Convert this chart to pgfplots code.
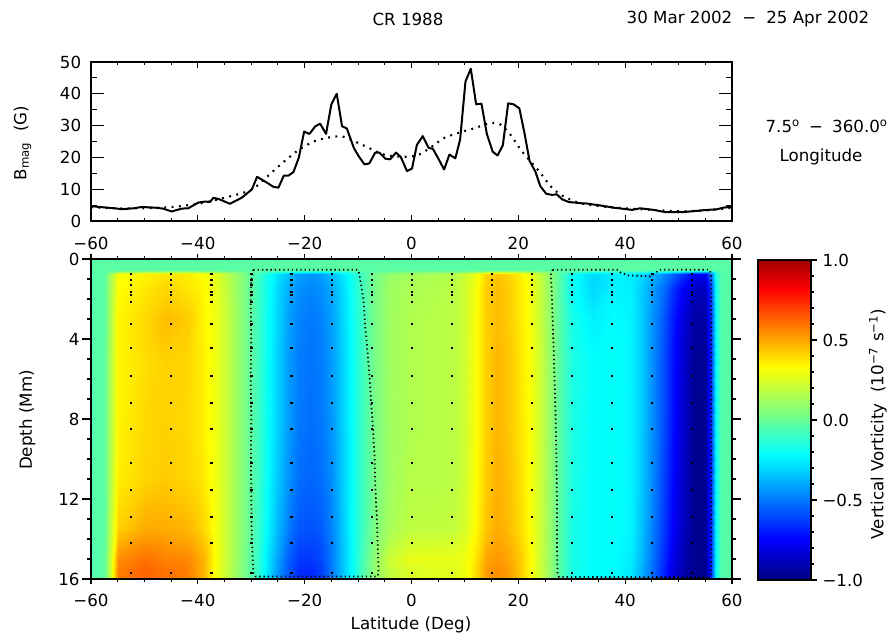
\documentclass[border=0pt]{standalone}
\usepackage{pgfplots}
\pgfplotsset{compat=1.18}
\usepackage{pgfplotstable}
\usepackage{fontspec}
\setmainfont{DejaVu Sans}
\pgfplotstableread[row sep=\\]{lat k\\-52.5 0\\-45 0\\-37.5 0\\-30 0\\-22.5 0\\-15 0\\-7.5 0\\0 0\\7.5 0\\15 0\\22.5 0\\30 0\\37.5 0\\45 0\\52.5 0\\}\dotlats
\begin{document}
\fontsize{12.5}{15}\selectfont
\begin{tikzpicture}
\pgfplotsset{
  colormap={vort}{rgb(0pt)=(0,0,0.5); rgb(25pt)=(0,0,1); rgb(78pt)=(0,1,1); rgb(105pt)=(0.5,1,0.5); rgb(133pt)=(1,1,0); rgb(182pt)=(1,0,0); rgb(200pt)=(0.62,0,0)},
  every axis/.append style={font=\fontsize{12.5}{15}\selectfont},
  every tick/.style={black, line width=0.8pt},
}
\path[use as bounding box] (0,0) rectangle (669pt,-479.25pt);

% ---------------- top panel ----------------
\begin{axis}[
  at={(68.25pt,-165.75pt)}, anchor=south west,
  scale only axis, width=480.75pt, height=119.25pt,
  xmin=-60, xmax=60, ymin=0, ymax=50,
  xtick={-60,-40,-20,0,20,40,60}, xticklabels={−60,−40,−20,0,20,40,60},
  ytick={0,10,20,30,40,50}, yticklabels={0,10,20,30,40,50},
  minor x tick num=3, minor y tick num=1,
  tick align=inside,
  xtick style={/pgfplots/major tick length=4.5pt, /pgfplots/minor tick length=2.5pt},
  ytick style={/pgfplots/major tick length=9.5pt, /pgfplots/minor tick length=4.5pt},
  axis line style={line width=0.9pt},
  xticklabel style={yshift=-8pt},
  yticklabel style={xshift=-3pt},
]
\addplot[black, line width=1.5pt, line join=round] coordinates {
(-60,4.7) (-59,4.5) (-57,4.2) (-55.5,4.0) (-54.3,3.7) (-52,4.0) (-50.5,4.4) (-48,4.2) (-46.5,3.9) (-44.9,3.0) (-43,3.9) (-41.8,4.0) (-39.9,5.8) (-38.7,6.1) (-37.7,6.0) (-37.1,7.3) (-35.9,6.8) (-34,5.4) (-31.8,7.3) (-29.9,9.9) (-28.9,13.9) (-27.4,12.4) (-25.8,10.7) (-24.9,10.5) (-23.9,14.3) (-23,14.3) (-22.1,15.4) (-21.1,19.9) (-20.1,28.1) (-19.1,27.4) (-18,29.8) (-17.1,30.6) (-16,27.4) (-15,36.7) (-14,40.0) (-13,29.8) (-12.1,29.1) (-10.8,23.0) (-9.9,20.4) (-8.8,17.8) (-7.9,18.1) (-6.8,21.5) (-6.0,21.5) (-4.9,19.6) (-4.0,19.4) (-2.9,21.5) (-2.0,20.1) (-0.85,15.7) (0.1,16.5) (1.0,23.9) (2.1,26.7) (3.2,23.0) (4.0,22.7) (5.1,19.4) (6.1,16.2) (7.1,20.9) (8.2,19.7) (9.1,25.6) (10.1,43.8) (11.1,47.9) (12.1,36.7) (13.1,36.9) (14.1,27.4) (15.2,21.8) (16.1,20.6) (17.1,23.8) (18.1,37.0) (19.1,36.7) (20.2,35.4) (21.2,27.2) (22.1,18.9) (23.2,15.5) (24.1,11.0) (25.2,8.6) (26.3,8.2) (27.2,8.4) (28.2,6.8) (29.4,6.0) (31.6,5.6) (32.8,5.5) (35.3,4.9) (37.8,4.2) (40.3,3.7) (41.3,3.5) (42.8,4.0) (45.3,3.5) (47.5,2.8) (50.9,2.8) (54.7,3.4) (57.2,3.7) (58.4,4.2) (60,4.5)
};
\addplot[black, line width=1.6pt, line cap=butt, dash pattern=on 1.4pt off 4.1pt, smooth] coordinates {
(-60,4.3) (-55,4.0) (-50,4.0) (-45,4.4) (-40,5.4) (-35,7.3) (-30,9.8) (-27,14) (-24,18.5) (-21,22.5) (-18,25.2) (-15,26.4) (-13,26.6) (-11,25.3) (-8,23) (-5,20.8) (-2,20.2) (1,20.6) (3.5,23) (6,26) (9,27.8) (12,29.3) (14.8,30.8) (16.6,30.4) (18.5,27.2) (20.4,22.5) (22.2,18.9) (24.1,15.2) (26,11) (27.8,8.4) (29.7,6.8) (31.6,5.6) (35,4.7) (40,4.0) (45,3.5) (50,3.1) (55,3.3) (60,4.2)
};
\end{axis}

% ---------------- bottom panel ----------------
\begin{axis}[
  at={(68.25pt,-434.25pt)}, anchor=south west,
  scale only axis, width=480.75pt, height=240pt,
  xmin=-60, xmax=60, ymin=0, ymax=16, y dir=reverse,
  xtick={-60,-40,-20,0,20,40,60}, xticklabels={−60,−40,−20,0,20,40,60},
  ytick={0,4,8,12,16}, yticklabels={0,4,8,12,16},
  minor x tick num=3, minor y tick num=3,
  tick align=outside,
  xtick style={/pgfplots/major tick length=4pt, /pgfplots/minor tick length=2.2pt},
  ytick style={/pgfplots/major tick length=6.5pt, /pgfplots/minor tick length=3.3pt},
  axis line style={line width=0.9pt},
  xticklabel style={yshift=-3pt},
  axis on top,
  colormap name=vort, point meta min=-1, point meta max=1,
]
\addplot[surf, shader=interp, mesh/cols=53, point meta=explicit] table[x=x, y=y, meta=v, row sep=\\] {
x y v\\
-60 0 -0.03\\ -57.5 0 -0.03\\ -56.5 0 -0.03\\ -55 0 -0.03\\ -50 0 -0.03\\ -46 0 -0.03\\ -42 0 -0.03\\ -39 0 -0.03\\ -37 0 -0.03\\ -35 0 -0.03\\ -33 0 -0.03\\ -31 0 -0.03\\ -29 0 -0.03\\ -27 0 -0.03\\ -25 0 -0.03\\ -23 0 -0.03\\ -21 0 -0.03\\ -19 0 -0.03\\ -17 0 -0.03\\ -15 0 -0.03\\ -13 0 -0.03\\ -11 0 -0.03\\ -9 0 -0.03\\ -7 0 -0.03\\ -4 0 -0.03\\ 0 0 -0.03\\ 4 0 -0.03\\ 8 0 -0.03\\ 10 0 -0.03\\ 12 0 -0.03\\ 14 0 -0.03\\ 16 0 -0.03\\ 18 0 -0.03\\ 20 0 -0.03\\ 22 0 -0.03\\ 24 0 -0.03\\ 26 0 -0.03\\ 28 0 -0.03\\ 30 0 -0.03\\ 34 0 -0.03\\ 38 0 -0.03\\ 41 0 -0.03\\ 43 0 -0.03\\ 45 0 -0.03\\ 47 0 -0.03\\ 49 0 -0.03\\ 51 0 -0.03\\ 53 0 -0.03\\ 55 0 -0.03\\ 56 0 -0.03\\ 57 0 -0.03\\ 58 0 -0.03\\ 60 0 -0.03\\
-60 0.55 -0.03\\ -57.5 0.55 -0.03\\ -56.5 0.55 -0.03\\ -55 0.55 -0.03\\ -50 0.55 -0.03\\ -46 0.55 -0.03\\ -42 0.55 -0.03\\ -39 0.55 -0.03\\ -37 0.55 -0.03\\ -35 0.55 -0.03\\ -33 0.55 -0.03\\ -31 0.55 -0.03\\ -29 0.55 -0.03\\ -27 0.55 -0.03\\ -25 0.55 -0.03\\ -23 0.55 -0.03\\ -21 0.55 -0.03\\ -19 0.55 -0.03\\ -17 0.55 -0.03\\ -15 0.55 -0.03\\ -13 0.55 -0.03\\ -11 0.55 -0.03\\ -9 0.55 -0.03\\ -7 0.55 -0.03\\ -4 0.55 -0.03\\ 0 0.55 -0.03\\ 4 0.55 -0.03\\ 8 0.55 -0.03\\ 10 0.55 -0.03\\ 12 0.55 -0.03\\ 14 0.55 -0.03\\ 16 0.55 -0.03\\ 18 0.55 -0.03\\ 20 0.55 -0.03\\ 22 0.55 -0.03\\ 24 0.55 -0.03\\ 26 0.55 -0.03\\ 28 0.55 -0.03\\ 30 0.55 -0.03\\ 34 0.55 -0.03\\ 38 0.55 -0.03\\ 41 0.55 -0.03\\ 43 0.55 -0.03\\ 45 0.55 -0.03\\ 47 0.55 -0.03\\ 49 0.55 -0.03\\ 51 0.55 -0.03\\ 53 0.55 -0.03\\ 55 0.55 -0.03\\ 56 0.55 -0.03\\ 57 0.55 -0.03\\ 58 0.55 -0.03\\ 60 0.55 -0.03\\
-60 0.75 -0.04\\ -57.5 0.75 -0.03\\ -56.5 0.75 0.12\\ -55 0.75 0.31\\ -50 0.75 0.35\\ -46 0.75 0.38\\ -42 0.75 0.36\\ -39 0.75 0.33\\ -37 0.75 0.28\\ -35 0.75 0.20\\ -33 0.75 0.12\\ -31 0.75 0.03\\ -29 0.75 -0.08\\ -27 0.75 -0.18\\ -25 0.75 -0.28\\ -23 0.75 -0.36\\ -21 0.75 -0.42\\ -19 0.75 -0.44\\ -17 0.75 -0.42\\ -15 0.75 -0.36\\ -13 0.75 -0.27\\ -11 0.75 -0.17\\ -9 0.75 -0.07\\ -7 0.75 0.03\\ -4 0.75 0.10\\ 0 0.75 0.13\\ 4 0.75 0.15\\ 8 0.75 0.17\\ 10 0.75 0.22\\ 12 0.75 0.30\\ 14 0.75 0.41\\ 16 0.75 0.44\\ 18 0.75 0.41\\ 20 0.75 0.37\\ 22 0.75 0.30\\ 24 0.75 0.20\\ 26 0.75 0.08\\ 28 0.75 -0.06\\ 30 0.75 -0.20\\ 34 0.75 -0.30\\ 38 0.75 -0.25\\ 41 0.75 -0.25\\ 43 0.75 -0.30\\ 45 0.75 -0.38\\ 47 0.75 -0.45\\ 49 0.75 -0.55\\ 51 0.75 -0.65\\ 53 0.75 -0.75\\ 55 0.75 -0.78\\ 56 0.75 -0.50\\ 57 0.75 -0.15\\ 58 0.75 -0.04\\ 60 0.75 -0.04\\
-60 1.5 -0.04\\ -57.5 1.5 -0.03\\ -56.5 1.5 0.13\\ -55 1.5 0.33\\ -50 1.5 0.37\\ -46 1.5 0.41\\ -42 1.5 0.38\\ -39 1.5 0.34\\ -37 1.5 0.29\\ -35 1.5 0.21\\ -33 1.5 0.12\\ -31 1.5 0.03\\ -29 1.5 -0.08\\ -27 1.5 -0.19\\ -25 1.5 -0.30\\ -23 1.5 -0.40\\ -21 1.5 -0.45\\ -19 1.5 -0.47\\ -17 1.5 -0.45\\ -15 1.5 -0.40\\ -13 1.5 -0.30\\ -11 1.5 -0.18\\ -9 1.5 -0.07\\ -7 1.5 0.03\\ -4 1.5 0.12\\ 0 1.5 0.15\\ 4 1.5 0.16\\ 8 1.5 0.18\\ 10 1.5 0.23\\ 12 1.5 0.31\\ 14 1.5 0.43\\ 16 1.5 0.46\\ 18 1.5 0.43\\ 20 1.5 0.38\\ 22 1.5 0.32\\ 24 1.5 0.21\\ 26 1.5 0.09\\ 28 1.5 -0.06\\ 30 1.5 -0.20\\ 34 1.5 -0.30\\ 38 1.5 -0.24\\ 41 1.5 -0.25\\ 43 1.5 -0.32\\ 45 1.5 -0.42\\ 47 1.5 -0.52\\ 49 1.5 -0.65\\ 51 1.5 -0.77\\ 53 1.5 -0.87\\ 55 1.5 -0.88\\ 56 1.5 -0.60\\ 57 1.5 -0.18\\ 58 1.5 -0.04\\ 60 1.5 -0.04\\
-60 3 -0.04\\ -57.5 3 -0.03\\ -56.5 3 0.14\\ -55 3 0.35\\ -50 3 0.40\\ -46 3 0.46\\ -42 3 0.43\\ -39 3 0.35\\ -37 3 0.30\\ -35 3 0.22\\ -33 3 0.13\\ -31 3 0.03\\ -29 3 -0.08\\ -27 3 -0.20\\ -25 3 -0.31\\ -23 3 -0.42\\ -21 3 -0.48\\ -19 3 -0.50\\ -17 3 -0.48\\ -15 3 -0.42\\ -13 3 -0.31\\ -11 3 -0.19\\ -9 3 -0.08\\ -7 3 0.03\\ -4 3 0.12\\ 0 3 0.16\\ 4 3 0.17\\ 8 3 0.18\\ 10 3 0.23\\ 12 3 0.32\\ 14 3 0.42\\ 16 3 0.46\\ 18 3 0.43\\ 20 3 0.38\\ 22 3 0.32\\ 24 3 0.21\\ 26 3 0.09\\ 28 3 -0.05\\ 30 3 -0.17\\ 34 3 -0.25\\ 38 3 -0.22\\ 41 3 -0.24\\ 43 3 -0.32\\ 45 3 -0.44\\ 47 3 -0.56\\ 49 3 -0.70\\ 51 3 -0.83\\ 53 3 -0.93\\ 55 3 -0.93\\ 56 3 -0.63\\ 57 3 -0.20\\ 58 3 -0.04\\ 60 3 -0.04\\
-60 5 -0.04\\ -57.5 5 -0.03\\ -56.5 5 0.15\\ -55 5 0.35\\ -50 5 0.39\\ -46 5 0.42\\ -42 5 0.41\\ -39 5 0.36\\ -37 5 0.30\\ -35 5 0.22\\ -33 5 0.13\\ -31 5 0.03\\ -29 5 -0.08\\ -27 5 -0.20\\ -25 5 -0.32\\ -23 5 -0.43\\ -21 5 -0.49\\ -19 5 -0.51\\ -17 5 -0.49\\ -15 5 -0.43\\ -13 5 -0.32\\ -11 5 -0.20\\ -9 5 -0.08\\ -7 5 0.03\\ -4 5 0.12\\ 0 5 0.16\\ 4 5 0.17\\ 8 5 0.18\\ 10 5 0.23\\ 12 5 0.32\\ 14 5 0.42\\ 16 5 0.47\\ 18 5 0.44\\ 20 5 0.39\\ 22 5 0.33\\ 24 5 0.22\\ 26 5 0.10\\ 28 5 -0.05\\ 30 5 -0.16\\ 34 5 -0.22\\ 38 5 -0.21\\ 41 5 -0.24\\ 43 5 -0.32\\ 45 5 -0.45\\ 47 5 -0.58\\ 49 5 -0.72\\ 51 5 -0.85\\ 53 5 -0.96\\ 55 5 -0.96\\ 56 5 -0.65\\ 57 5 -0.20\\ 58 5 -0.04\\ 60 5 -0.04\\
-60 8 -0.05\\ -57.5 8 -0.03\\ -56.5 8 0.15\\ -55 8 0.35\\ -50 8 0.40\\ -46 8 0.42\\ -42 8 0.40\\ -39 8 0.36\\ -37 8 0.30\\ -35 8 0.22\\ -33 8 0.13\\ -31 8 0.03\\ -29 8 -0.08\\ -27 8 -0.20\\ -25 8 -0.32\\ -23 8 -0.43\\ -21 8 -0.50\\ -19 8 -0.52\\ -17 8 -0.50\\ -15 8 -0.44\\ -13 8 -0.32\\ -11 8 -0.20\\ -9 8 -0.08\\ -7 8 0.03\\ -4 8 0.12\\ 0 8 0.16\\ 4 8 0.17\\ 8 8 0.18\\ 10 8 0.23\\ 12 8 0.32\\ 14 8 0.42\\ 16 8 0.47\\ 18 8 0.44\\ 20 8 0.39\\ 22 8 0.33\\ 24 8 0.22\\ 26 8 0.10\\ 28 8 -0.05\\ 30 8 -0.16\\ 34 8 -0.22\\ 38 8 -0.21\\ 41 8 -0.24\\ 43 8 -0.32\\ 45 8 -0.45\\ 47 8 -0.58\\ 49 8 -0.72\\ 51 8 -0.85\\ 53 8 -0.97\\ 55 8 -0.97\\ 56 8 -0.65\\ 57 8 -0.20\\ 58 8 -0.04\\ 60 8 -0.04\\
-60 11 -0.04\\ -57.5 11 -0.03\\ -56.5 11 0.15\\ -55 11 0.36\\ -50 11 0.41\\ -46 11 0.43\\ -42 11 0.41\\ -39 11 0.37\\ -37 11 0.31\\ -35 11 0.22\\ -33 11 0.13\\ -31 11 0.03\\ -29 11 -0.08\\ -27 11 -0.21\\ -25 11 -0.34\\ -23 11 -0.45\\ -21 11 -0.52\\ -19 11 -0.54\\ -17 11 -0.52\\ -15 11 -0.46\\ -13 11 -0.33\\ -11 11 -0.20\\ -9 11 -0.08\\ -7 11 0.03\\ -4 11 0.12\\ 0 11 0.17\\ 4 11 0.17\\ 8 11 0.18\\ 10 11 0.23\\ 12 11 0.33\\ 14 11 0.43\\ 16 11 0.48\\ 18 11 0.45\\ 20 11 0.40\\ 22 11 0.33\\ 24 11 0.22\\ 26 11 0.10\\ 28 11 -0.05\\ 30 11 -0.16\\ 34 11 -0.22\\ 38 11 -0.21\\ 41 11 -0.24\\ 43 11 -0.33\\ 45 11 -0.46\\ 47 11 -0.60\\ 49 11 -0.74\\ 51 11 -0.87\\ 53 11 -0.97\\ 55 11 -0.97\\ 56 11 -0.66\\ 57 11 -0.20\\ 58 11 -0.04\\ 60 11 -0.04\\
-60 13.5 -0.04\\ -57.5 13.5 -0.03\\ -56.5 13.5 0.17\\ -55 13.5 0.42\\ -50 13.5 0.49\\ -46 13.5 0.49\\ -42 13.5 0.47\\ -39 13.5 0.41\\ -37 13.5 0.32\\ -35 13.5 0.22\\ -33 13.5 0.13\\ -31 13.5 0.03\\ -29 13.5 -0.09\\ -27 13.5 -0.23\\ -25 13.5 -0.37\\ -23 13.5 -0.50\\ -21 13.5 -0.57\\ -19 13.5 -0.58\\ -17 13.5 -0.56\\ -15 13.5 -0.48\\ -13 13.5 -0.34\\ -11 13.5 -0.20\\ -9 13.5 -0.08\\ -7 13.5 0.04\\ -4 13.5 0.14\\ 0 13.5 0.19\\ 4 13.5 0.19\\ 8 13.5 0.20\\ 10 13.5 0.24\\ 12 13.5 0.34\\ 14 13.5 0.44\\ 16 13.5 0.49\\ 18 13.5 0.46\\ 20 13.5 0.41\\ 22 13.5 0.33\\ 24 13.5 0.22\\ 26 13.5 0.10\\ 28 13.5 -0.05\\ 30 13.5 -0.17\\ 34 13.5 -0.22\\ 38 13.5 -0.21\\ 41 13.5 -0.24\\ 43 13.5 -0.34\\ 45 13.5 -0.48\\ 47 13.5 -0.62\\ 49 13.5 -0.76\\ 51 13.5 -0.88\\ 53 13.5 -0.97\\ 55 13.5 -0.97\\ 56 13.5 -0.66\\ 57 13.5 -0.20\\ 58 13.5 -0.04\\ 60 13.5 -0.04\\
-60 15 -0.05\\ -57.5 15 -0.02\\ -56.5 15 0.20\\ -55 15 0.55\\ -50 15 0.60\\ -46 15 0.57\\ -42 15 0.56\\ -39 15 0.48\\ -37 15 0.34\\ -35 15 0.22\\ -33 15 0.13\\ -31 15 0.02\\ -29 15 -0.10\\ -27 15 -0.26\\ -25 15 -0.42\\ -23 15 -0.56\\ -21 15 -0.63\\ -19 15 -0.64\\ -17 15 -0.60\\ -15 15 -0.50\\ -13 15 -0.35\\ -11 15 -0.20\\ -9 15 -0.06\\ -7 15 0.08\\ -4 15 0.22\\ 0 15 0.28\\ 4 15 0.28\\ 8 15 0.28\\ 10 15 0.30\\ 12 15 0.38\\ 14 15 0.50\\ 16 15 0.53\\ 18 15 0.50\\ 20 15 0.45\\ 22 15 0.35\\ 24 15 0.22\\ 26 15 0.10\\ 28 15 -0.05\\ 30 15 -0.17\\ 34 15 -0.22\\ 38 15 -0.22\\ 41 15 -0.26\\ 43 15 -0.36\\ 45 15 -0.50\\ 47 15 -0.65\\ 49 15 -0.80\\ 51 15 -0.90\\ 53 15 -0.97\\ 55 15 -0.97\\ 56 15 -0.66\\ 57 15 -0.20\\ 58 15 -0.04\\ 60 15 -0.04\\
-60 15.6 -0.05\\ -57.5 15.6 -0.02\\ -56.5 15.6 0.20\\ -55 15.6 0.58\\ -50 15.6 0.63\\ -46 15.6 0.60\\ -42 15.6 0.58\\ -39 15.6 0.48\\ -37 15.6 0.33\\ -35 15.6 0.22\\ -33 15.6 0.12\\ -31 15.6 0.02\\ -29 15.6 -0.10\\ -27 15.6 -0.27\\ -25 15.6 -0.44\\ -23 15.6 -0.58\\ -21 15.6 -0.66\\ -19 15.6 -0.67\\ -17 15.6 -0.62\\ -15 15.6 -0.50\\ -13 15.6 -0.35\\ -11 15.6 -0.20\\ -9 15.6 -0.05\\ -7 15.6 0.08\\ -4 15.6 0.20\\ 0 15.6 0.25\\ 4 15.6 0.26\\ 8 15.6 0.26\\ 10 15.6 0.30\\ 12 15.6 0.40\\ 14 15.6 0.52\\ 16 15.6 0.55\\ 18 15.6 0.52\\ 20 15.6 0.45\\ 22 15.6 0.35\\ 24 15.6 0.22\\ 26 15.6 0.10\\ 28 15.6 -0.05\\ 30 15.6 -0.17\\ 34 15.6 -0.22\\ 38 15.6 -0.22\\ 41 15.6 -0.27\\ 43 15.6 -0.38\\ 45 15.6 -0.52\\ 47 15.6 -0.67\\ 49 15.6 -0.82\\ 51 15.6 -0.92\\ 53 15.6 -0.97\\ 55 15.6 -0.97\\ 56 15.6 -0.66\\ 57 15.6 -0.20\\ 58 15.6 -0.04\\ 60 15.6 -0.04\\
-60 16 -0.05\\ -57.5 16 -0.02\\ -56.5 16 0.20\\ -55 16 0.58\\ -50 16 0.63\\ -46 16 0.60\\ -42 16 0.58\\ -39 16 0.48\\ -37 16 0.33\\ -35 16 0.22\\ -33 16 0.12\\ -31 16 0.02\\ -29 16 -0.10\\ -27 16 -0.27\\ -25 16 -0.44\\ -23 16 -0.58\\ -21 16 -0.66\\ -19 16 -0.67\\ -17 16 -0.62\\ -15 16 -0.50\\ -13 16 -0.35\\ -11 16 -0.20\\ -9 16 -0.05\\ -7 16 0.08\\ -4 16 0.20\\ 0 16 0.25\\ 4 16 0.26\\ 8 16 0.26\\ 10 16 0.30\\ 12 16 0.40\\ 14 16 0.52\\ 16 16 0.55\\ 18 16 0.52\\ 20 16 0.45\\ 22 16 0.35\\ 24 16 0.22\\ 26 16 0.10\\ 28 16 -0.05\\ 30 16 -0.17\\ 34 16 -0.22\\ 38 16 -0.22\\ 41 16 -0.27\\ 43 16 -0.38\\ 45 16 -0.52\\ 47 16 -0.67\\ 49 16 -0.82\\ 51 16 -0.92\\ 53 16 -0.97\\ 55 16 -0.97\\ 56 16 -0.66\\ 57 16 -0.20\\ 58 16 -0.04\\ 60 16 -0.04\\
};
% contour lines
\addplot[black, line width=1.3pt, line cap=butt, dash pattern=on 1pt off 2.2pt] coordinates {
(-29.6,0.54) (-10.3,0.54) (-9.9,0.6) (-9.5,1.2) (-9.0,2.0) (-8.65,3.4) (-8.3,4.4) (-7.85,5.9) (-7.6,7.0) (-7.2,8.5) (-6.9,9.9) (-6.8,11.2) (-6.5,12.9) (-6.3,14.5) (-6.15,15.7) (-6.4,15.88) (-29.2,15.88) (-29.6,15.7) (-29.9,14) (-30.0,12) (-30.05,10) (-30.0,8) (-30.1,6) (-30.0,4) (-30.1,2) (-29.95,1) (-29.6,0.54)
};
\addplot[black, line width=1.3pt, line cap=butt, dash pattern=on 1pt off 2.2pt] coordinates {
(26.4,0.54) (38.5,0.54) (39.1,0.67) (40.6,0.82) (44.7,0.87) (45.6,0.7) (46.4,0.54) (55.8,0.54) (56.1,0.75) (56.1,15.7) (55.8,15.9) (27.6,15.9) (27.35,15.7) (27.23,14.5) (27.23,12) (27.1,9.5) (26.9,7) (26.6,4.5) (26.3,2) (26.1,0.8) (26.4,0.54)
};
% sampling dots
\pgfplotsinvokeforeach{0.75,1.04,1.3,1.64,1.79,2.12,3.24,4.45,5.85,7.2,8.5,10.2,11.55,12.9,14.2,15.7}{
  \addplot[only marks, mark=square*, mark size=0.45pt, mark options={draw=none, fill=black}] table[x=lat, y expr=#1] {\dotlats};
}
\end{axis}

% ---------------- colour bar ----------------
\begin{axis}[
  at={(568.5pt,-435pt)}, anchor=south west,
  scale only axis, width=39.75pt, height=240pt,
  xmin=0, xmax=1, ymin=-1, ymax=1,
  xtick=\empty,
  ytick={-1,-0.5,0,0.5,1}, yticklabels={−1.0,−0.5,0.0,0.5,1.0},
  minor y tick num=4,
  tick align=outside, ytick pos=right, yticklabel pos=right,
  ytick style={/pgfplots/major tick length=4.5pt, /pgfplots/minor tick length=2.3pt},
  axis line style={line width=0.9pt},
  axis on top,
  colormap name=vort, point meta min=-1, point meta max=1,
]
\addplot[surf, shader=interp, mesh/cols=3, point meta=explicit] table[x=x, y=y, meta=v, row sep=\\] {
x y v\\
0 -1 -1\\ 0.5 -1 -1\\ 1 -1 -1\\
0 -0.75 -0.75\\ 0.5 -0.75 -0.75\\ 1 -0.75 -0.75\\
0 -0.5 -0.5\\ 0.5 -0.5 -0.5\\ 1 -0.5 -0.5\\
0 -0.22 -0.22\\ 0.5 -0.22 -0.22\\ 1 -0.22 -0.22\\
0 0.05 0.05\\ 0.5 0.05 0.05\\ 1 0.05 0.05\\
0 0.33 0.33\\ 0.5 0.33 0.33\\ 1 0.33 0.33\\
0 0.6 0.6\\ 0.5 0.6 0.6\\ 1 0.6 0.6\\
0 0.82 0.82\\ 0.5 0.82 0.82\\ 1 0.82 0.82\\
0 1 1\\ 0.5 1 1\\ 1 1 1\\
};
\end{axis}

% ---------------- texts ----------------
\node at (306pt,-14.25pt) {CR 1988};
\node at (561pt,-14.25pt) {30 Mar 2002\hspace{0.6em}−\hspace{0.6em}25 Apr 2002};
\node at (620pt,-94.5pt) {7.5\textsuperscript{o}\hspace{0.55em}−\hspace{0.55em}360.0\textsuperscript{o}};
\node at (615.75pt,-117.75pt) {Longitude};
\node[rotate=90] at (16.9pt,-107.25pt) {B\textsubscript{mag} \ (G)};
\node[rotate=90] at (20.5pt,-315pt) {Depth (Mm)};
\node at (308.25pt,-468.5pt) {Latitude (Deg)};
\node[rotate=90] at (658.5pt,-318pt) {Vertical Vorticity \ (10\textsuperscript{−7} s\textsuperscript{−1})};
\end{tikzpicture}
\end{document}
